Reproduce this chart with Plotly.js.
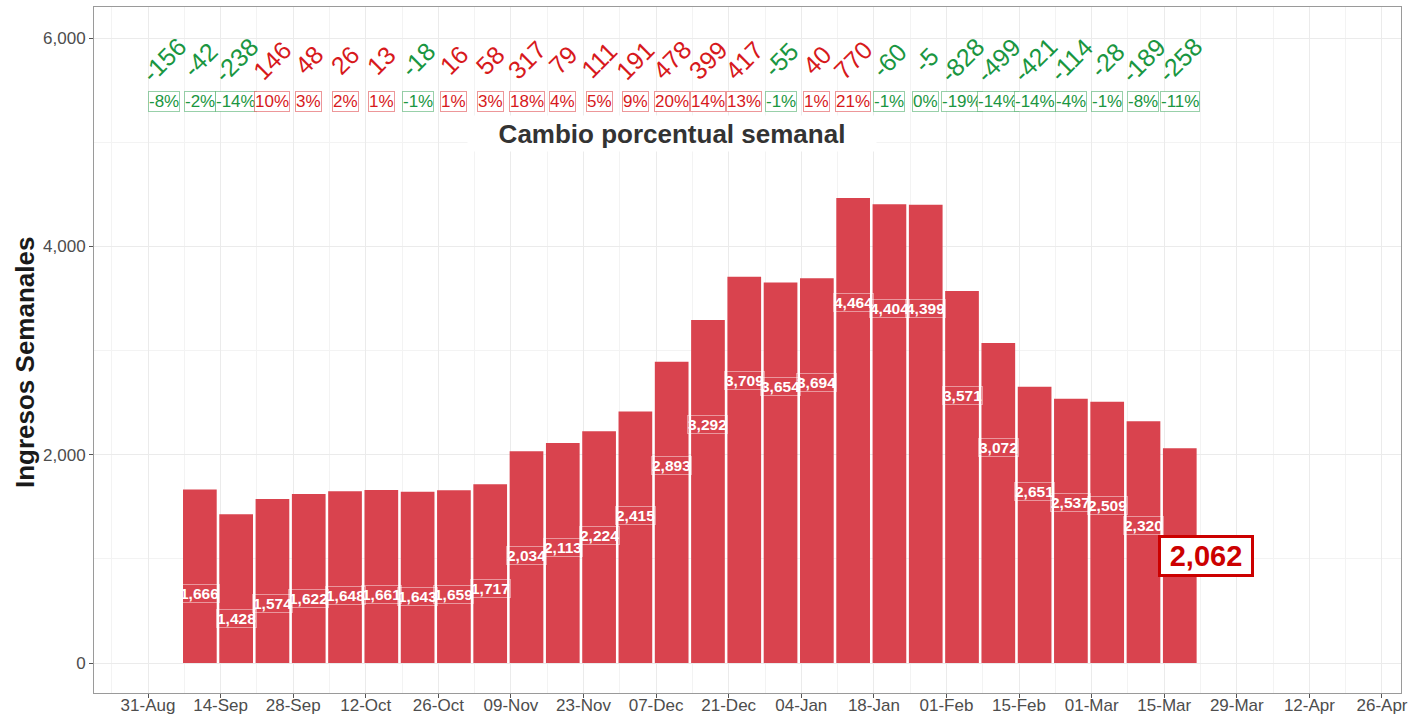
<!DOCTYPE html>
<html>
<head>
<meta charset="utf-8">
<script src="https://cdn.plot.ly/plotly-3.0.1.min.js"></script>
<style>html,body{margin:0;padding:0;background:#fff;}#chart{width:1410px;height:714px;}</style>
</head>
<body>
<div id="chart"></div>
<script>
// ---- data ----
const barDates = ['2020-09-10','2020-09-17','2020-09-24','2020-10-01','2020-10-08','2020-10-15','2020-10-22',
  '2020-10-29','2020-11-05','2020-11-12','2020-11-19','2020-11-26','2020-12-03','2020-12-10','2020-12-17',
  '2020-12-24','2020-12-31','2021-01-07','2021-01-14','2021-01-21','2021-01-28','2021-02-04','2021-02-11',
  '2021-02-18','2021-02-25','2021-03-04','2021-03-11','2021-03-18'];
const weeklyAdmissions = [1666,1428,1574,1622,1648,1661,1643,1659,1717,2034,2113,2224,2415,2893,3292,
  3709,3654,3694,4464,4404,4399,3571,3072,2651,2537,2509,2320,2062];

const changeDates = ['2020-09-03'].concat(barDates);
const weeklyChange = [-156,-42,-238,146,48,26,13,-18,16,58,317,79,111,191,478,399,417,-55,40,770,
  -60,-5,-828,-499,-421,-114,-28,-189,-258];
const weeklyPct = [-8,-2,-14,10,3,2,1,-1,1,3,18,4,5,9,20,14,13,-1,1,21,-1,0,-19,-14,-14,-4,-1,-8,-11];

const tickDates = ['2020-08-31','2020-09-14','2020-09-28','2020-10-12','2020-10-26','2020-11-09','2020-11-23',
  '2020-12-07','2020-12-21','2021-01-04','2021-01-18','2021-02-01','2021-02-15','2021-03-01','2021-03-15',
  '2021-03-29','2021-04-12','2021-04-26'];
const tickLabels = ['31-Aug','14-Sep','28-Sep','12-Oct','26-Oct','09-Nov','23-Nov','07-Dec','21-Dec',
  '04-Jan','18-Jan','01-Feb','15-Feb','01-Mar','15-Mar','29-Mar','12-Apr','26-Apr'];
const yTicks = [0,2000,4000,6000];

const titleText = 'Cambio porcentual semanal';
const yTitle = 'Ingresos Semanales';

// ---- styles ----
const DAY = 86400000;
const RED = '#d7191c', GREEN = '#1a9641', BAR = '#d9434e';
const FONT = 'Liberation Sans, Arial, sans-serif';
const fmt = v => v.toLocaleString('en-US');
const toMs = s => new Date(s + 'T00:00:00Z').getTime();
const msToStr = ms => new Date(ms).toISOString().replace('T',' ').replace('Z','').slice(0,19);

const annotations = [];

// change numbers (rotated) and percent labels
changeDates.forEach((d, i) => {
  const c = weeklyChange[i] < 0 ? GREEN : RED;
  annotations.push({x: d, y: 5790, xref:'x', yref:'y', text: String(weeklyChange[i]), textangle: -45,
    showarrow:false, font:{family:FONT, size:25, color:c}});
});
changeDates.forEach((d, i) => {
  const c = weeklyChange[i] < 0 ? GREEN : RED;
  const cl = weeklyChange[i] < 0 ? 'rgba(26,150,65,0.45)' : 'rgba(215,25,28,0.45)';
  annotations.push({x: d, y: 5395, xref:'x', yref:'y', text: weeklyPct[i] + '%',
    showarrow:false, font:{family:FONT, size:17, color:c}, bgcolor:'#ffffff',
    bordercolor: cl, borderwidth:1, borderpad:0});
});

// title label in the middle of the weeks
const midMs = (toMs(changeDates[0]) + toMs(changeDates[changeDates.length-1])) / 2;
annotations.push({x: msToStr(midMs), y: 5085, xref:'x', yref:'y', text: '<b>' + titleText + '</b>',
  showarrow:false, font:{family:FONT, size:26, color:'#333333'}, bgcolor:'#ffffff',
  width: 404, height: 31, borderpad: 2});

// bar labels
barDates.forEach((d, i) => {
  if (i === barDates.length - 1) return;
  annotations.push({x: d, y: weeklyAdmissions[i] - 1000, xref:'x', yref:'y', text: '<b>' + fmt(weeklyAdmissions[i]) + '</b>',
    showarrow:false, font:{family:FONT, size:15.5, color:'#ffffff'}, bgcolor:'rgba(0,0,0,0)',
    bordercolor:'rgba(255,255,255,0.45)', borderwidth:1, borderpad:0});
});
// highlighted last value
const lastI = barDates.length - 1;
annotations.push({x: msToStr(toMs(barDates[lastI]) + 5.1*DAY), y: weeklyAdmissions[lastI] / 2, xref:'x', yref:'y',
  text: '<b>' + fmt(weeklyAdmissions[lastI]) + '</b>', showarrow:false,
  font:{family:FONT, size:29, color:'#cc0000'}, bgcolor:'#ffffff', bordercolor:'#cc0000', borderwidth:3, borderpad:2,
  width: 86});

// y axis title
annotations.push({x: 0, y: 0.481, xref:'paper', yref:'paper', xanchor:'center', yanchor:'middle', xshift:-69,
  text: '<b>' + yTitle + '</b>', textangle:-90, showarrow:false,
  font:{family:FONT, size:26, color:'#1a1a1a'}});

const trace = {
  type:'bar', x: barDates, y: weeklyAdmissions, width: 6.5*DAY,
  marker:{color: BAR, line:{width:0}}, hoverinfo:'skip'
};

const layout = {
  width:1410, height:714,
  margin:{l:94, r:9, t:7, b:21, pad:0},
  paper_bgcolor:'#ffffff', plot_bgcolor:'#ffffff',
  showlegend:false,
  font:{family:FONT},
  xaxis:{
    type:'date', range:['2020-08-20 14:00','2021-04-29 16:00'],
    tickmode:'array', tickvals: tickDates, ticktext: tickLabels,
    tickfont:{family:FONT, size:17, color:'#4d4d4d'},
    ticks:'outside', ticklen:4, tickcolor:'#555555', ticklabelstandoff:-7,
    showgrid:true, gridcolor:'#ebebeb', gridwidth:1,
    minor:{tick0:'2020-09-07', dtick:14*DAY, showgrid:true, gridcolor:'#f3f3f3', gridwidth:1, ticks:''},
    showline:true, mirror:true, linecolor:'#9a9a9a', linewidth:1,
    zeroline:false, fixedrange:true
  },
  yaxis:{
    range:[-288, 6298], tickmode:'array', tickvals: yTicks, ticktext: yTicks.map(fmt),
    tickfont:{family:FONT, size:17, color:'#4d4d4d'},
    ticks:'outside', ticklen:4, tickcolor:'#555555',
    showgrid:true, gridcolor:'#ebebeb', gridwidth:1,
    minor:{tick0:1000, dtick:2000, showgrid:true, gridcolor:'#f3f3f3', gridwidth:1, ticks:''},
    showline:true, mirror:true, linecolor:'#9a9a9a', linewidth:1,
    zeroline:false, fixedrange:true
  },
  annotations: annotations
};

Plotly.newPlot('chart', [trace], layout, {displayModeBar:false, staticPlot:true});
</script>
</body>
</html>
